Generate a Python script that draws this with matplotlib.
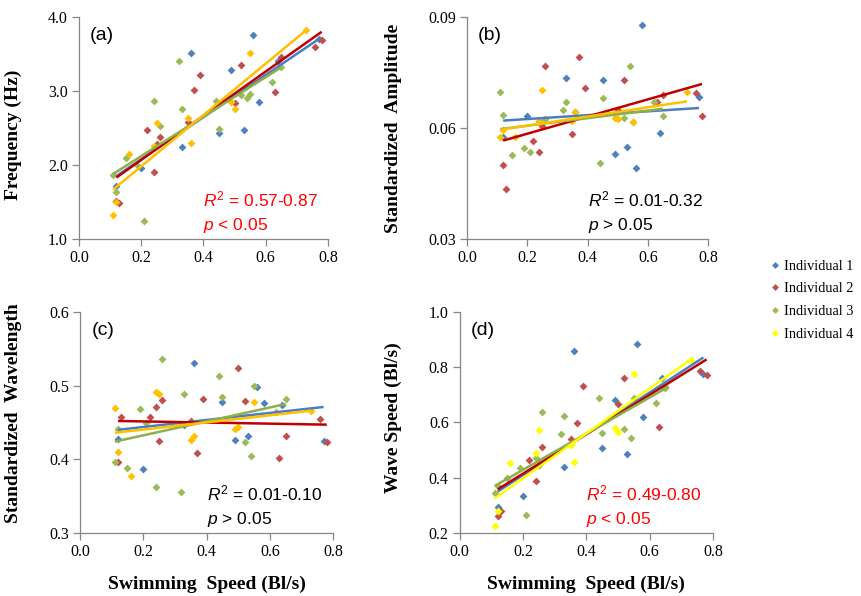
import matplotlib
matplotlib.use("Agg")
import matplotlib.pyplot as plt
from matplotlib.lines import Line2D

plt.rcParams["mathtext.fontset"] = "custom"
plt.rcParams["mathtext.rm"] = "Liberation Sans"
plt.rcParams["mathtext.it"] = "Liberation Sans:italic"

# swimming speed (Bl/s) per individual
X1 = [0.12, 0.20, 0.33, 0.36, 0.45, 0.49, 0.53, 0.56, 0.58, 0.64, 0.77]
X2 = [0.12, 0.13, 0.22, 0.24, 0.25, 0.26, 0.35, 0.37, 0.39, 0.50, 0.52,
      0.63, 0.65, 0.76, 0.78]
X3 = [0.11, 0.12, 0.15, 0.19, 0.21, 0.24, 0.26, 0.32, 0.33, 0.44, 0.45,
      0.52, 0.54, 0.55, 0.62, 0.65]
X4 = [0.11, 0.12, 0.16, 0.24, 0.25, 0.35, 0.36, 0.49, 0.50, 0.55, 0.73]

# (a) frequency (Hz)
FREQ1 = [1.72, 1.96, 2.24, 3.51, 2.43, 3.29, 2.47, 3.75, 2.85, 3.40, 3.70]
FREQ2 = [1.51, 1.48, 2.47, 1.90, 2.28, 2.38, 2.58, 3.01, 3.22, 2.84, 3.35,
         2.99, 3.46, 3.59, 3.69]
FREQ3 = [1.87, 1.64, 2.09, 1.98, 1.24, 2.87, 2.53, 3.40, 2.75, 2.87, 2.49,
         2.94, 2.91, 2.96, 3.12, 3.32]
FREQ4 = [1.33, 1.50, 2.15, 2.26, 2.57, 2.64, 2.30, 2.85, 2.76, 3.52, 3.82]

# (b) standardized amplitude
AMP1 = [0.0575, 0.0632, 0.0734, 0.0644, 0.0729, 0.0531, 0.0549, 0.0491,
        0.0879, 0.0586, 0.0683]
AMP2 = [0.0500, 0.0435, 0.0564, 0.0534, 0.0605, 0.0768, 0.0583, 0.0792,
        0.0708, 0.0648, 0.0731, 0.0670, 0.0688, 0.0694, 0.0632]
AMP3 = [0.0697, 0.0634, 0.0526, 0.0546, 0.0534, 0.0620, 0.0625, 0.0648,
        0.0670, 0.0505, 0.0681, 0.0627, 0.0768, 0.0615, 0.0669, 0.0632]
AMP4 = [0.0577, 0.0595, 0.0577, 0.0615, 0.0704, 0.0618, 0.0642, 0.0626,
        0.0624, 0.0615, 0.0696]

# (c) standardized wavelength
WL1 = [0.428, 0.387, 0.447, 0.531, 0.478, 0.426, 0.432, 0.498, 0.477, 0.474,
       0.425]
WL2 = [0.396, 0.457, 0.457, 0.471, 0.425, 0.480, 0.452, 0.409, 0.482, 0.524,
       0.479, 0.402, 0.432, 0.455, 0.424]
WL3 = [0.397, 0.441, 0.388, 0.468, 0.449, 0.362, 0.536, 0.356, 0.489, 0.513,
       0.485, 0.424, 0.404, 0.500, 0.464, 0.482]
WL4 = [0.470, 0.410, 0.378, 0.491, 0.488, 0.426, 0.432, 0.441, 0.444, 0.478,
       0.465]

# (d) wave speed (Bl/s)
WS1 = [0.295, 0.334, 0.440, 0.858, 0.507, 0.681, 0.486, 0.883, 0.618, 0.761,
       0.774]
WS2 = [0.263, 0.281, 0.464, 0.388, 0.445, 0.511, 0.540, 0.597, 0.731, 0.667,
       0.759, 0.583, 0.729, 0.787, 0.770]
WS3 = [0.343, 0.370, 0.400, 0.435, 0.265, 0.472, 0.636, 0.557, 0.625, 0.688,
       0.561, 0.576, 0.543, 0.687, 0.669, 0.725]
WS4 = [0.225, 0.281, 0.454, 0.488, 0.572, 0.520, 0.457, 0.580, 0.565, 0.774,
       0.825]

# linear trend lines, value at first and last speed of each individual
TREND_A = [(1.85, 3.70), (1.83, 3.80), (1.88, 3.32), (1.67, 3.82)]
TREND_B = [(0.0620, 0.0654), (0.0566, 0.0719), (0.0597, 0.0652),
           (0.0595, 0.0672)]
TREND_C = [(0.440, 0.471), (0.452, 0.447), (0.424, 0.475), (0.436, 0.466)]
TREND_D = [(0.350, 0.835), (0.358, 0.828), (0.370, 0.723), (0.325, 0.828)]

NAMES = ["Individual 1", "Individual 2", "Individual 3", "Individual 4"]
XS = [X1, X2, X3, X4]
XT = [0.0, 0.2, 0.4, 0.6, 0.8]

MK = ["#4F81BD", "#C0504D", "#9BBB59", "#FFC000"]
LN = ["#4A7EC4", "#C00000", "#8DB04B", "#FFC000"]
YEL = "#FFFF00"
SPINE = "#868686"
SERIF = "Liberation Serif"
SANS = "Liberation Sans"

panels = [
    dict(ys=[FREQ1, FREQ2, FREQ3, FREQ4], tr=TREND_A, tag="(a)",
         ylab="Frequency (Hz)", ylim=(1.0, 4.0), yt=[1.0, 2.0, 3.0, 4.0],
         yfmt="{:.1f}", r2="0.57-0.87", p="<", col="#FF0000",
         pos=[0.0918, 0.599, 0.289, 0.3725], lx=-0.229, ly=0.47, c4=MK[3]),
    dict(ys=[AMP1, AMP2, AMP3, AMP4], tr=TREND_B, tag="(b)",
         ylab="Standardized  Amplitude", ylim=(0.03, 0.09),
         yt=[0.03, 0.06, 0.09], yfmt="{:.2f}", r2="0.01-0.32", p=">",
         col="black", pos=[0.5424, 0.599, 0.280, 0.3725], lx=-0.27, ly=0.5,
         c4=MK[3]),
    dict(ys=[WL1, WL2, WL3, WL4], tr=TREND_C, tag="(c)",
         ylab="Standardized  Wavelength", ylim=(0.3, 0.6),
         yt=[0.3, 0.4, 0.5, 0.6], yfmt="{:.1f}", r2="0.01-0.10", p=">",
         col="black", pos=[0.0929, 0.1057, 0.294, 0.371], lx=-0.229,
         ly=0.54, c4=MK[3]),
    dict(ys=[WS1, WS2, WS3, WS4], tr=TREND_D, tag="(d)",
         ylab="Wave Speed (Bl/s)", ylim=(0.2, 1.0),
         yt=[0.2, 0.4, 0.6, 0.8, 1.0], yfmt="{:.1f}", r2="0.49-0.80", p="<",
         col="#FF0000", pos=[0.534, 0.1057, 0.294, 0.371], lx=-0.229,
         ly=0.52, c4=YEL),
]

fig = plt.figure(figsize=(8.61, 5.96), dpi=100)
for k, pn in enumerate(panels):
    ax = fig.add_axes(pn["pos"])
    mcols = MK[:3] + [pn["c4"]]
    lcols = LN[:3] + [pn["c4"]]
    for i in range(4):
        ax.scatter(XS[i], pn["ys"][i], marker="D", s=16, color=mcols[i],
                   linewidths=0, zorder=2)
    for i in range(4):
        x0, x1 = min(XS[i]), max(XS[i])
        ax.plot([x0, x1], pn["tr"][i], color=lcols[i], lw=1.8,
                solid_capstyle="butt", zorder=3)
    ax.set_xlim(0, 0.8)
    ax.set_ylim(*pn["ylim"])
    ax.set_xticks(XT)
    ax.set_xticklabels([f"{v:.1f}" for v in XT])
    ax.set_yticks(pn["yt"])
    ax.set_yticklabels([pn["yfmt"].format(v) for v in pn["yt"]])
    for s in ("top", "right"):
        ax.spines[s].set_visible(False)
    for s in ("left", "bottom"):
        ax.spines[s].set_color(SPINE)
        ax.spines[s].set_linewidth(0.9)
    ax.tick_params(direction="out", length=5, width=0.9, color=SPINE,
                   labelsize=11.5, pad=3)
    for lab in ax.get_xticklabels() + ax.get_yticklabels():
        lab.set_fontfamily(SERIF)
    ax.set_ylabel(pn["ylab"], fontfamily=SERIF, fontweight="bold",
                  fontsize=14)
    ax.yaxis.set_label_coords(pn["lx"], pn["ly"])
    if k >= 2:
        ax.set_xlabel("Swimming  Speed (Bl/s)", fontfamily=SERIF,
                      fontweight="bold", fontsize=14)
        ax.xaxis.set_label_coords(0.5, -0.195)
    ax.text(0.045, 0.915, pn["tag"], transform=ax.transAxes,
            fontfamily=SANS, fontsize=14, va="center", ha="left")
    ax.text(0.50, 0.178, f"$R^2$ = {pn['r2']}", transform=ax.transAxes,
            fontfamily=SANS, fontsize=12.5, color=pn["col"], va="center",
            ha="left")
    ax.text(0.50, 0.063, f"$p$ {pn['p']} 0.05", transform=ax.transAxes,
            fontfamily=SANS, fontsize=12.5, color=pn["col"], va="center",
            ha="left")

handles = [Line2D([], [], ls="none", marker="D", ms=3.5, mew=0,
                  color=c, label=n)
           for c, n in zip(MK[:3] + [YEL], NAMES)]
fig.legend(handles=handles, loc="upper left",
           bbox_to_anchor=(0.889, 1 - 254 / 596), frameon=False,
           prop={"family": SERIF, "size": 10.3}, handlelength=0.6,
           handletextpad=0.3, labelspacing=0.68, borderaxespad=0)

fig.savefig("out.png", dpi=100)
